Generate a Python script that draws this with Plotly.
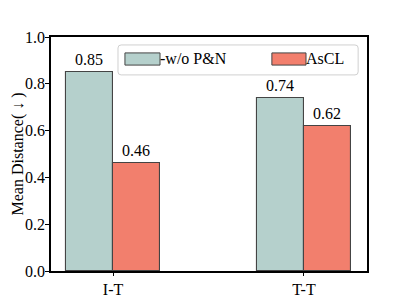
import plotly.graph_objects as go

categories = ["I-T", "T-T"]
wo_pn = [0.85, 0.74]
ascl = [0.46, 0.62]
y_ticks = [0.0, 0.2, 0.4, 0.6, 0.8, 1.0]
series_names = ["-w/o P&N", "AsCL"]
colors = ["#b5d0cc", "#f27f6d"]

font = "Liberation Serif"
bw = 0.246

fig = go.Figure()
for vals, name, col, off in [(wo_pn, series_names[0], colors[0], -bw),
                             (ascl, series_names[1], colors[1], 0)]:
    fig.add_trace(go.Bar(
        x=[0, 1], y=vals, name=name, width=bw, offset=off,
        marker=dict(color=col, line=dict(color="#444444", width=1.1)),
        text=[f"{v:.2f}" for v in vals], textposition="outside",
        textfont=dict(size=16, color="black", family=font), cliponaxis=False,
        showlegend=False,
    ))

# manual legend (matplotlib style) in paper coords
def rpath(x0, y0, x1, y1, rx, ry):
    return (f"M {x0+rx},{y0} L {x1-rx},{y0} Q {x1},{y0} {x1},{y0+ry} "
            f"L {x1},{y1-ry} Q {x1},{y1} {x1-rx},{y1} L {x0+rx},{y1} "
            f"Q {x0},{y1} {x0},{y1-ry} L {x0},{y0+ry} Q {x0},{y0} {x0+rx},{y0} Z")

fig.add_shape(type="path", xref="paper", yref="paper",
              path=rpath(0.212, 0.838, 0.972, 0.966, 0.01, 0.013),
              fillcolor="rgba(255,255,255,0.85)", line=dict(color="#d0d0d0", width=1))
leg_items = [(0.234, 0.345), (0.699, 0.807)]
for (x0, x1), name, col in zip(leg_items, series_names, colors):
    fig.add_shape(type="rect", xref="paper", yref="paper", x0=x0, x1=x1,
                  y0=0.880, y1=0.932, fillcolor=col, line=dict(color="#444444", width=1))
    fig.add_annotation(xref="paper", yref="paper", x=x1, y=0.906, text=name,
                       showarrow=False, xanchor="left", yanchor="middle",
                       font=dict(size=16, family=font, color="black"), xshift=-2)

# y-axis title
fig.add_annotation(xref="paper", yref="paper", x=-0.106, y=0.5,
                   text="Mean Distance( \u2193 )", textangle=-90, showarrow=False,
                   xanchor="center", yanchor="middle",
                   font=dict(size=16, family=font, color="black"))

fig.update_layout(
    width=407, height=305,
    margin=dict(l=43, r=48, t=29, b=42, autoexpand=False),
    paper_bgcolor="white", plot_bgcolor="white",
    font=dict(family=font, size=16, color="black"),
    showlegend=False,
    bargap=0, barmode="overlay",
)
fig.update_xaxes(
    range=[-0.325, 1.33], tickvals=[0, 1], ticktext=categories,
    showline=True, linecolor="black", linewidth=1.5, mirror=True,
    ticks="outside", ticklen=3, tickcolor="black", showgrid=False, zeroline=False,
    tickfont=dict(size=16, family=font), automargin=False,
)
fig.update_yaxes(
    range=[0, 1.0], tickvals=y_ticks, ticktext=[f"{v:.1f}" for v in y_ticks],
    showline=True, linecolor="black", linewidth=1.5, mirror=True,
    ticks="outside", ticklen=4, tickcolor="black", showgrid=False, zeroline=False,
    tickfont=dict(size=16, family=font), automargin=False, ticklabelstandoff=-3,
)

fig.write_html("out.html")
